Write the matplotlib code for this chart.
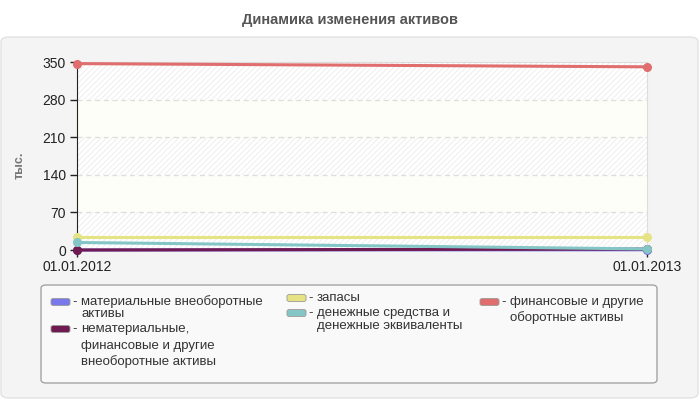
"""Dynamics of assets chart (step-free two-date line chart)."""

import matplotlib
matplotlib.use("Agg")
import matplotlib.pyplot as plt
from matplotlib.patches import FancyBboxPatch

plt.rcParams["font.family"] = ["Liberation Sans", "DejaVu Sans"]
plt.rcParams["hatch.linewidth"] = 0.6
plt.rcParams["hatch.color"] = "#e2e2e2"

# data
dates = ["01.01.2012", "01.01.2013"]
material = [0.0, 0.5]
intangible = [0.0, 1.8]
stocks = [24.5, 24.5]
cash = [14.0, 2.0]
financial = [347.0, 341.0]

series_names = [
    "материальные внеоборотные\nактивы",
    "нематериальные,\nфинансовые и другие\nвнеоборотные активы",
    "запасы",
    "денежные средства и\nденежные эквиваленты",
    "финансовые и другие\nоборотные активы",
]
series_values = [material, intangible, stocks, cash, financial]
colors = ["#7878ea", "#701a52", "#e6e384", "#84c6c6", "#e06e6e"]

y_ticks = [0, 70, 140, 210, 280, 350]

W, H = 700, 400


def px(x, y):
    return x / W, 1 - y / H


fig = plt.figure(figsize=(7, 4), dpi=100)
fig.patch.set_facecolor("white")

# outer grey panel
x0, y0 = px(1, 398)
x1, y1 = px(698, 37)
fig.patches.append(FancyBboxPatch((x0, y0), x1 - x0, y1 - y0,
                                  boxstyle="round,pad=0,rounding_size=0.012",
                                  transform=fig.transFigure, facecolor="#f4f4f4",
                                  edgecolor="#e2e2e2", lw=1, zorder=-5))

fig.text(0.5, px(0, 20)[1], "Динамика изменения активов", ha="center", va="center",
         fontsize=10.5, fontweight="bold", color="#555555")

l, t = px(77, 62)
r, b = px(647, 250)
ax = fig.add_axes([l, b, r - l, t - b])
ax.set_zorder(3)
ax.set_facecolor("#fefef8")
ax.set_xlim(0, 1)
ax.set_ylim(0, 350)

for lo in (0, 140, 280):
    ax.axhspan(lo, lo + 70, facecolor="white", edgecolor="#ececec", hatch="//////",
               lw=0, zorder=0)
for yv in y_ticks[1:-1]:
    ax.axhline(yv, color="#dddddd", lw=0.9, ls=(0, (4, 3)), zorder=1)

x = list(range(len(dates)))
order = [0, 1, 3, 2, 4]
for i in order:
    ax.plot(x, series_values[i], color=colors[i], lw=2.2, marker="o", markersize=5.5,
            clip_on=False, zorder=3 + i * 0.1, solid_capstyle="butt")

ax.set_xticks(x)
ax.set_xticklabels(dates)
ax.set_yticks(y_ticks)
ax.tick_params(axis="both", labelsize=10, colors="#222222", length=5, width=1,
               direction="out", pad=2)
ax.tick_params(axis="y", pad=3)
for side in ("top", "right"):
    ax.spines[side].set_color("#dddddd")
ax.spines["left"].set_color("#222222")
ax.spines["bottom"].set_color("#222222")

fig.text(*px(20, 165), "тыс.", rotation=90, ha="center", va="center",
         fontsize=9, fontweight="bold", color="#777777")

# legend box
lx0, ly0 = px(41, 383)
lx1, ly1 = px(657, 285)
fig.patches.append(FancyBboxPatch((lx0, ly0), lx1 - lx0, ly1 - ly0,
                                  boxstyle="round,pad=0,rounding_size=0.008",
                                  transform=fig.transFigure, facecolor="#f9f9f9",
                                  edgecolor="#a4a4a4", lw=1, zorder=1))

# legend entries: swatch x, first line y, line spacing
slots = [(51, 302, 12), (51, 329, 16.5), (287, 298, 14), (287, 313, 12.5), (480, 302, 16)]
for (sx, sy, sp), name, c in zip(slots, series_names, colors):
    bx, by = px(sx, sy + 3.5)
    fig.patches.append(FancyBboxPatch((bx, by), 19 / W, 7 / H,
                                      boxstyle="round,pad=0,rounding_size=0.004",
                                      transform=fig.transFigure, facecolor=c,
                                      edgecolor="#999999", lw=0.6, zorder=2))
    fig.text(*px(sx + 21, sy), "-", ha="left", va="center", fontsize=9.5, color="#333333")
    for k, line in enumerate(name.split("\n")):
        fig.text(*px(sx + 30, sy + k * sp), line, ha="left", va="center",
                 fontsize=9.5, color="#333333")

fig.savefig("out.png", dpi=100)
